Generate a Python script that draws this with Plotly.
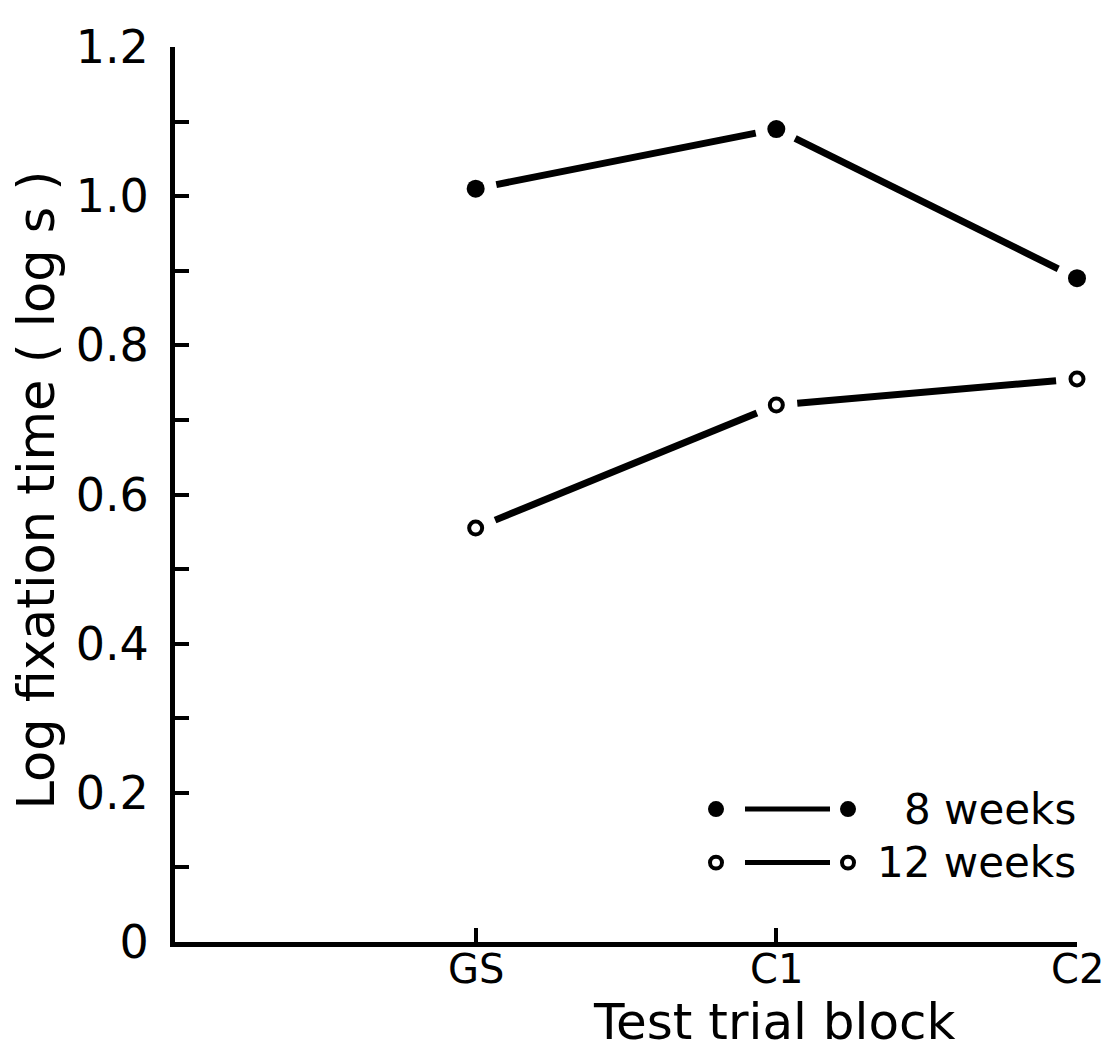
import math
import plotly.graph_objects as go

categories = ["GS", "C1", "C2"]
cat_pos = [1, 2, 3]
weeks8 = [1.01, 1.09, 0.89]
weeks12 = [0.555, 0.72, 0.755]
series_names = ["8 weeks", "12 weeks"]
y_ticks = [round(0.1 * i, 1) for i in range(13)]
y_ticktext = ["0" if v == 0 else (f"{v:.1f}" if round(v * 10) % 2 == 0 else "") for v in y_ticks]

FONT = "DejaVu Sans"
X_RANGE = [0, 3]
Y_RANGE = [0, 1.2]
PLOT_W, PLOT_H = 902, 902
GAP = 21  # px gap between a point and its connecting line

fig = go.Figure()

def gapped_segments(xs, ys):
    """Split a polyline into segments shortened by GAP px at each data point."""
    sx = PLOT_W / (X_RANGE[1] - X_RANGE[0])
    sy = PLOT_H / (Y_RANGE[1] - Y_RANGE[0])
    segs = []
    for i in range(len(xs) - 1):
        dx = (xs[i + 1] - xs[i]) * sx
        dy = (ys[i + 1] - ys[i]) * sy
        f = GAP / math.hypot(dx, dy)
        x0 = xs[i] + (xs[i + 1] - xs[i]) * f
        y0 = ys[i] + (ys[i + 1] - ys[i]) * f
        x1 = xs[i + 1] - (xs[i + 1] - xs[i]) * f
        y1 = ys[i + 1] - (ys[i + 1] - ys[i]) * f
        segs.append(([x0, x1], [y0, y1]))
    return segs

for vals, filled in [(weeks8, True), (weeks12, False)]:
    for sxs, sys_ in gapped_segments(cat_pos, vals):
        fig.add_trace(go.Scatter(x=sxs, y=sys_, mode="lines",
                                 line=dict(color="black", width=7),
                                 showlegend=False, cliponaxis=False))
    fig.add_trace(go.Scatter(x=cat_pos, y=vals, mode="markers",
                             marker=dict(color="black" if filled else "white", size=18 if filled else 13,
                                         line=dict(color="black", width=0 if filled else 4)),
                             showlegend=False, cliponaxis=False))

# helpers: page pixel (as in the reference) -> paper fraction of the plot area
def py(pix):
    return (942 - pix) / 902.0

def px(pix):
    return (pix - 175) / 902.0

shapes = []
annotations = []
for ypix, filled, name in [(808, True, series_names[0]), (862, False, series_names[1])]:
    shapes.append(dict(type="line", xref="paper", yref="paper", x0=px(745), x1=px(830), y0=py(ypix), y1=py(ypix),
                       line=dict(color="black", width=5)))
    for cx in (716, 848):
        r = 8 if filled else 6
        shapes.append(dict(type="circle", xref="paper", yref="paper",
                           x0=px(cx - r), x1=px(cx + r), y0=py(ypix - r), y1=py(ypix + r),
                           fillcolor="black" if filled else "white",
                           line=dict(color="black", width=0 if filled else 4)))
    annotations.append(dict(text=name, xref="paper", yref="paper", x=px(1078), y=py(ypix),
                            xanchor="right", yanchor="middle", showarrow=False,
                            font=dict(family=FONT, size=42, color="black")))

# category labels under the x axis, placed at the category positions
for xv, lab in zip(cat_pos, categories):
    annotations.append(dict(text=lab, xref="x", yref="paper", x=xv, y=py(969),
                            xanchor="center", yanchor="middle", showarrow=False,
                            font=dict(family=FONT, size=40, color="black")))

annotations.append(dict(text="Test trial block", xref="paper", yref="paper", x=px(774), y=py(1023),
                        xanchor="center", yanchor="middle", showarrow=False,
                        font=dict(family=FONT, size=50, color="black")))
annotations.append(dict(text="Log fixation time ( log s )", xref="paper", yref="paper", x=px(37), y=py(487),
                        xanchor="center", yanchor="middle", showarrow=False, textangle=-90,
                        font=dict(family=FONT, size=51, color="black")))

# the page body adds an 8px offset, so the figure is slightly smaller and shifted
fig.update_layout(
    width=1106, height=1047,
    margin=dict(l=167, r=37, t=32, b=113),
    paper_bgcolor="white", plot_bgcolor="white",
    showlegend=False,
    shapes=shapes, annotations=annotations,
    font=dict(family=FONT, color="black"),
    xaxis=dict(range=X_RANGE, tickvals=cat_pos, ticktext=categories, showticklabels=False,
               ticks="inside", ticklen=14,
               tickwidth=4, tickcolor="black", showline=True, linecolor="black", linewidth=5,
               showgrid=False, zeroline=False),
    yaxis=dict(range=Y_RANGE, tickvals=y_ticks, ticktext=y_ticktext, ticks="inside", ticklen=14,
               tickwidth=4, tickcolor="black", showline=True, linecolor="black", linewidth=5,
               showgrid=False, zeroline=False, tickfont=dict(size=46, family=FONT),
               ticklabelstandoff=12),
)

fig.write_html("out.html")
